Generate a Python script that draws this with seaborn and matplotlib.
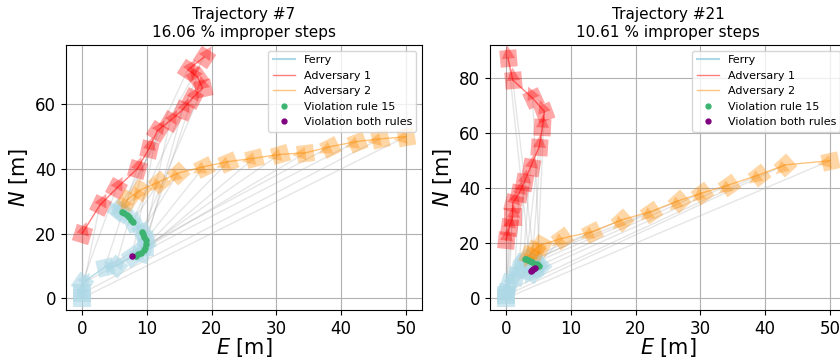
import numpy as np
import matplotlib
matplotlib.use("Agg")
import matplotlib.pyplot as plt
from matplotlib.markers import MarkerStyle
from matplotlib.transforms import Affine2D
from matplotlib.lines import Line2D
import seaborn as sns

# ---------------- Trajectory #7 ----------------
title_7 = "Trajectory #7\n16.06 % improper steps"
ferry7_e = [0, 0, 0, 3.5, 5.2, 7.7, 9.1, 9.7, 9.8, 9.2, 7.8, 6.2, 5.6]
ferry7_n = [0, 1.5, 4.6, 9.6, 10.0, 12.9, 13.9, 15.8, 18.0, 20.6, 23.7, 26.8, 27.3]
adv1_7_e = [0, 2.7, 5.3, 8.5, 10.3, 11.6, 13.6, 15.5, 17.0, 18.6, 17.8, 16.3, 18.8]
adv1_7_n = [20, 28.7, 34, 40, 46.2, 51.8, 55, 58.3, 61.9, 65, 68.6, 70.7, 74.6]
adv2_7_e = [50, 46, 42.4, 38.3, 34.5, 30.5, 26.5, 22.6, 18.8, 14.8, 11.9, 9.0, 7.0]
adv2_7_n = [50, 49.3, 48.5, 46.9, 45, 44.5, 43.3, 42.3, 40.7, 38.7, 36, 33.5, 30.5]
rule15_7_e = [6.2, 6.5, 6.9, 7.2, 7.5, 7.8, 8.3, 8.7, 9.1, 9.5, 9.7, 9.85, 9.8, 9.6, 9.4, 9.2]
rule15_7_n = [26.8, 26.2, 25.6, 25.0, 24.3, 23.7, 13.1, 13.5, 13.9, 14.8, 15.5, 16.8, 18.0, 19.0, 19.8, 20.6]
both_7_e = [7.7]
both_7_n = [12.9]

# ---------------- Trajectory #21 ----------------
title_21 = "Trajectory #21\n10.61 % improper steps"
ferry21_e = [0, 0, 0, 0.5, 1.3, 2.0, 2.6, 3.1, 4.0, 4.8, 5.2, 4.5, 3.8]
ferry21_n = [0, 1.0, 2.4, 5.5, 7.9, 10.5, 12.7, 14.2, 13.1, 12.3, 11.6, 10.9, 9.7]
adv1_21_e = [0, 0.5, 1.0, 1.0, 2.0, 2.8, 3.8, 5.1, 5.6, 5.9, 4.1, 1.0, 0.3]
adv1_21_n = [21.2, 26, 29.5, 34.5, 38.2, 42.2, 47.9, 55.1, 62.4, 67.9, 72.7, 79.4, 87.3]
adv2_21_e = [50, 43.1, 39.0, 34.4, 30.2, 26.7, 22.3, 17.9, 13.3, 8.7, 5.4, 4.4, 3.6]
adv2_21_n = [50, 48.5, 44.8, 41.2, 38.2, 35.5, 31.5, 28.5, 24.2, 21.8, 19.4, 17.6, 15.7]
rule15_21_e = [2.9, 3.1, 3.4, 3.7, 4.0, 4.5, 4.7, 4.9, 5.1]
rule15_21_n = [14.4, 14.2, 13.8, 13.4, 13.1, 12.5, 12.3, 12.0, 11.7]
both_21_e = [3.8, 4.0, 4.2, 4.4]
both_21_n = [9.8, 10.2, 10.5, 10.8]

legend_labels = ["Ferry", "Adversary 1", "Adversary 2",
                 "Violation rule 15", "Violation both rules"]

FERRY_C, ADV1_C, ADV2_C = "lightblue", "red", "darkorange"
R15_C, BOTH_C = "mediumseagreen", "purple"


def headings(e, n):
    """Marker rotation (deg) from the direction of travel in data units."""
    e = np.asarray(e, float)
    n = np.asarray(n, float)
    de = np.diff(e)
    dn = np.diff(n)
    de = np.append(de, de[-1])
    dn = np.append(dn, dn[-1])
    return np.degrees(np.arctan2(dn, de)) - 90.0


def draw_vessel(ax, e, n, color, alpha, line_alpha, size=150):
    sns.lineplot(x=e, y=n, sort=False, estimator=None, color=color,
                 alpha=line_alpha, lw=1.0, ax=ax, legend=False, zorder=3)
    for x, y, r in zip(e, n, headings(e, n)):
        hull = MarkerStyle("s", transform=Affine2D().rotate_deg(r))
        bow = MarkerStyle("^", transform=Affine2D().scale(0.77)
                          .translate(0, 0.385).rotate_deg(r))
        ax.scatter([x], [y], marker=hull, s=size, color=color,
                   alpha=alpha, linewidths=0, zorder=2)
        ax.scatter([x], [y], marker=bow, s=size, color=color,
                   alpha=alpha, linewidths=0, zorder=2)


def draw_panel(ax, title, fe, fn, a1e, a1n, a2e, a2n, r15e, r15n, be, bn):
    # sight lines between the ferry and each adversary at the same step
    for i in range(len(fe)):
        ax.plot([fe[i], a1e[i]], [fn[i], a1n[i]], color="gray",
                alpha=0.2, lw=1, zorder=1)
        ax.plot([fe[i], a2e[i]], [fn[i], a2n[i]], color="gray",
                alpha=0.2, lw=1, zorder=1)
    draw_vessel(ax, fe, fn, FERRY_C, 0.6, 0.9)
    draw_vessel(ax, a1e, a1n, ADV1_C, 0.35, 0.5)
    draw_vessel(ax, a2e, a2n, ADV2_C, 0.35, 0.5)
    sns.scatterplot(x=r15e, y=r15n, color=R15_C, s=22, linewidth=0,
                    ax=ax, legend=False, zorder=4)
    sns.scatterplot(x=be, y=bn, color=BOTH_C, s=22, linewidth=0,
                    ax=ax, legend=False, zorder=5)

    ax.set_title(title, fontsize=11)
    ax.set_xlabel("$E$ [m]", fontsize=15, labelpad=-1)
    ax.set_ylabel("$N$ [m]", fontsize=15)
    ax.tick_params(labelsize=12)
    ax.grid(True)

    handles = [
        Line2D([], [], color=FERRY_C, lw=1.5),
        Line2D([], [], color=ADV1_C, lw=1.0, alpha=0.5),
        Line2D([], [], color=ADV2_C, lw=1.0, alpha=0.5),
        Line2D([], [], color=R15_C, marker="o", ls="", ms=3.5),
        Line2D([], [], color=BOTH_C, marker="o", ls="", ms=3.5),
    ]
    ax.legend(handles, legend_labels, loc="upper right", fontsize=8)


fig = plt.figure(figsize=(8.4, 3.61), dpi=100)
W, H = 840.0, 361.0
ax_left = fig.add_axes([66 / W, 51 / H, 356 / W, 265 / H])
ax_right = fig.add_axes([490 / W, 51 / H, 356 / W, 265 / H])

draw_panel(ax_left, title_7, ferry7_e, ferry7_n, adv1_7_e, adv1_7_n,
           adv2_7_e, adv2_7_n, rule15_7_e, rule15_7_n, both_7_e, both_7_n)
draw_panel(ax_right, title_21, ferry21_e, ferry21_n, adv1_21_e, adv1_21_n,
           adv2_21_e, adv2_21_n, rule15_21_e, rule15_21_n, both_21_e, both_21_n)

ax_left.set_xlim(-2.5, 52.5)
ax_left.set_ylim(-3.7, 78.4)
ax_right.set_xlim(-2.5, 52.5)
ax_right.set_ylim(-4.3, 92.1)
ax_right.set_yticks([0, 20, 40, 60, 80])

fig.savefig("out.png", dpi=100)
